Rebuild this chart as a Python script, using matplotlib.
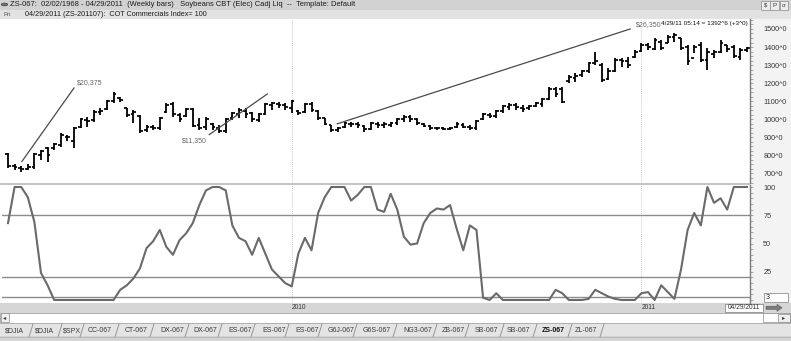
import matplotlib
matplotlib.use("Agg")
import matplotlib.pyplot as plt
from matplotlib.patches import Rectangle, Circle
from matplotlib.lines import Line2D
import numpy as np
import pandas as pd

W, H = 791, 341
plt.rcParams['font.family'] = ['Liberation Sans', 'DejaVu Sans']

# ---------------- data ----------------
title = "ZS-067:  02/02/1968 - 04/29/2011  (Weekly bars)   Soybeans CBT (Elec) Cadj Liq  --  Template: Default"
subtitle = "04/29/2011 (ZS-201107):  COT Commercials Index= 100"
quote_text = "4/29/11 05:14 = 1392^6 (+3^0)"
last_week = "2011-04-29"

opens = [810, 740, 730, 725, 735, 800, 840, 840, 860, 900,
         880, 960, 995, 995, 1040, 1055, 1100, 1120, 1060, 1030,
         1020, 940, 955, 950, 1040, 1085, 1025, 1018, 1055, 970,
         955, 975, 950, 935, 1005, 1030, 1045, 1035, 995, 1030,
         1080, 1085, 1080, 1060, 1045, 1040, 1085, 1045, 1005, 970,
         940, 955, 975, 975, 965, 945, 975, 970, 970, 980,
         1000, 1015, 1000, 975, 965, 950, 950, 945, 955, 970,
         960, 950, 1000, 1025, 1020, 1045, 1070, 1080, 1065, 1060,
         1075, 1085, 1115, 1170, 1170, 1210, 1230, 1245, 1265, 1310,
         1300, 1225, 1270, 1330, 1320, 1345, 1380, 1410, 1390, 1430,
         1425, 1455, 1450, 1400, 1340, 1410, 1330, 1360, 1375, 1410,
         1400, 1345, 1385]
highs = [816, 750, 739, 750, 816, 832, 849, 871, 926, 915,
         959, 1009, 1015, 1053, 1064, 1108, 1152, 1125, 1064, 1053,
         1026, 970, 970, 1015, 1092, 1097, 1037, 1064, 1064, 1009,
         1015, 981, 970, 1009, 1042, 1064, 1064, 1042, 1037, 1092,
         1097, 1097, 1092, 1108, 1053, 1092, 1097, 1053, 1009, 970,
         959, 987, 987, 987, 970, 987, 987, 987, 987, 1009,
         1026, 1026, 1009, 981, 970, 959, 959, 959, 987, 981,
         970, 998, 1037, 1037, 1053, 1081, 1092, 1092, 1081, 1081,
         1097, 1119, 1180, 1180, 1180, 1246, 1257, 1274, 1318, 1373,
         1312, 1285, 1340, 1340, 1346, 1384, 1423, 1423, 1450, 1439,
         1467, 1478, 1450, 1412, 1412, 1428, 1395, 1384, 1439, 1412,
         1412, 1395, 1401]
lows = [733, 717, 706, 717, 722, 777, 761, 832, 849, 877,
        843, 954, 959, 987, 1026, 1053, 1092, 1097, 1015, 981,
        926, 932, 943, 943, 1037, 1015, 987, 1015, 959, 943,
        943, 943, 926, 926, 998, 1009, 1009, 987, 987, 1026,
        1053, 1064, 1053, 1037, 1026, 1037, 1042, 998, 970, 932,
        932, 954, 959, 954, 932, 943, 954, 954, 959, 970,
        987, 987, 970, 959, 943, 943, 938, 943, 954, 954,
        943, 943, 998, 1009, 1009, 1037, 1053, 1053, 1042, 1053,
        1070, 1070, 1108, 1125, 1092, 1202, 1208, 1235, 1257, 1301,
        1208, 1219, 1263, 1290, 1285, 1340, 1373, 1384, 1384, 1384,
        1423, 1428, 1384, 1301, 1368, 1318, 1274, 1340, 1368, 1373,
        1340, 1329, 1373]
closes = [740, 735, 725, 735, 810, 825, 800, 865, 915, 900,
          950, 1000, 990, 1040, 1045, 1100, 1140, 1105, 1025, 1040,
          935, 955, 950, 1005, 1080, 1030, 1000, 1055, 965, 950,
          1000, 960, 935, 1000, 1035, 1050, 1030, 1000, 1030, 1085,
          1090, 1080, 1070, 1100, 1035, 1085, 1050, 1005, 975, 940,
          950, 980, 975, 970, 945, 980, 970, 975, 980, 1000,
          1015, 1000, 980, 965, 950, 950, 945, 950, 975, 960,
          950, 990, 1030, 1020, 1045, 1075, 1080, 1070, 1055, 1075,
          1090, 1115, 1170, 1140, 1095, 1235, 1240, 1265, 1310, 1320,
          1215, 1270, 1330, 1325, 1300, 1375, 1410, 1400, 1440, 1395,
          1455, 1465, 1395, 1320, 1400, 1330, 1370, 1375, 1420, 1390,
          1350, 1385, 1392.75]
cot_index = [68, 100, 100, 91, 69, 24, 13, 0, 0, 0,
             0, 0, 0, 0, 0, 0, 0, 9, 13, 19,
             28, 46, 52, 62, 47, 40, 53, 59, 68, 84,
             97, 100, 100, 97, 66, 55, 52, 40, 55, 41,
             27, 21, 15, 12, 41, 55, 44, 77, 91, 100,
             100, 100, 88, 93, 100, 100, 80, 78, 94, 80,
             56, 49, 50, 68, 77, 81, 80, 84, 63, 44,
             66, 62, 2, 0, 6, 0, 0, 0, 0, 0,
             0, 0, 0, 9, 6, 0, 0, 0, 1, 9,
             6, 3, 1, 0, 0, 0, 6, 7, 0, 13,
             7, 1, 27, 62, 77, 66, 100, 86, 90, 80,
             100, 100, 100]

# drawn trend lines: (bar index start, price start, bar index end, price end, label)
trend_x0 = [2.1, 30.5, 49.9]
trend_y0 = [766, 915, 975]
trend_x1 = [10.0, 39.3, 94.3]
trend_y1 = [1173, 1140, 1500]
trend_labels = ["$20,375", "$11,350", "$26,350"]

price_ticks = [700, 800, 900, 1000, 1100, 1200, 1300, 1400, 1500]
price_tick_labels = ["700^0", "800^0", "900^0", "1000^0", "1100^0",
                     "1200^0", "1300^0", "1400^0", "1500^0"]
index_ticks = [25, 50, 75, 100]
index_levels = [75, 20, 3]
year_labels = [2010, 2011]
tabs = ["$DJIA", "$DJIA", "$SPX", "CC-067", "CT-067", "DX-067", "DX-067",
        "ES-067", "ES-067", "ES-067", "G6J-067", "G6S-067", "NG3-067",
        "ZB-067", "SB-067", "SB-067", "ZS-067", "ZL-067"]
active_tab = "ZS-067"
last_date_label = "04/29/2011"
level_box_label = "3"

# ---------------- layout helpers ----------------
fig = plt.figure(figsize=(W / 100, H / 100), dpi=100)
fig.patch.set_facecolor("white")


def rect(x0, y0, x1, y1, fc, ec="none", lw=0.8, z=-10):
    r = Rectangle((x0 / W, 1 - y1 / H), (x1 - x0) / W, (y1 - y0) / H,
                  transform=fig.transFigure, facecolor=fc, edgecolor=ec,
                  linewidth=lw, zorder=z)
    fig.add_artist(r)
    return r


def ftext(x, y, s, **kw):
    kw.setdefault("fontsize", 5)
    kw.setdefault("va", "center")
    kw.setdefault("ha", "left")
    return fig.text(x / W, 1 - y / H, s, **kw)


def fline(xs, ys, **kw):
    l = Line2D([x / W for x in xs], [1 - y / H for y in ys],
               transform=fig.transFigure, **kw)
    fig.add_artist(l)
    return l


# backgrounds
rect(0, 0, W, 10, "#d2d2d2")
rect(0, 10, W, 19, "#e2e2e2")
rect(750, 19, W, 303, "#f3f3f3")
rect(0, 182.5, 750, 184.5, "#c4c4c4", z=5)
rect(0, 303, W, 312.5, "#d6d6d6")
rect(0, 312.5, W, 322.5, "#ffffff", ec="#a0a0a0", lw=0.6)
rect(0, 322.5, W, H, "#e4e4e4")
rect(0, 336, W, H, "#d4d4d4")

# header
fig.add_artist(Circle((4.5 / W, 1 - 4.5 / H), 3.2 / W, transform=fig.transFigure,
                      facecolor="#707070", edgecolor="#404040", lw=0.5, zorder=3))
ftext(10, 4.8, title, fontsize=5.45, color="#1a1a1a")
ftext(4, 14.3, "Fri", fontsize=4.6, color="#555555")
ftext(25, 14.3, subtitle, fontsize=5.2, color="#1a1a1a")
for k, s in enumerate(["$", "P", "σ"]):
    x0 = 761 + k * 9.3
    rect(x0, 1, x0 + 8.5, 9.5, "#ececec", ec="#8a8a8a", lw=0.5, z=2)
    ftext(x0 + 4.25, 5.3, s, fontsize=4.4, ha="center", color="#333333")

# ---------------- axes ----------------
bx0, bx1 = 2, 750
step = (747 - 8) / 112.0
xl0 = (bx0 - 8) / step
xl1 = (bx1 - 8) / step


def p_at(y):
    return 1500 - (y - 29) * 800.0 / 145.0


def v_at(y):
    return 100 - (y - 187) * 100.0 / 113.0


ax_p = fig.add_axes([bx0 / W, 1 - 182.5 / H, (bx1 - bx0) / W, (182.5 - 19) / H])
ax_i = fig.add_axes([bx0 / W, 1 - 303 / H, (bx1 - bx0) / W, (303 - 184.5) / H])

n = len(closes)
idx = np.arange(n)
dates = pd.date_range(end=last_week, periods=n, freq="W-FRI")

for ax in (ax_p, ax_i):
    ax.set_facecolor("white")
    ax.set_xlim(xl0, xl1)
    for s in ("top", "left", "bottom"):
        ax.spines[s].set_visible(False)
    ax.spines["right"].set_color("#7a7a7a")
    ax.spines["right"].set_linewidth(1.0)
    ax.yaxis.tick_right()
    ax.set_xticks([])
    ax.tick_params(axis="y", which="both", direction="out", colors="#9a9a9a",
                   labelcolor="#333333", labelsize=5.2, pad=7, length=2.5, width=0.6)

# price bars
ax_p.set_ylim(p_at(182.5), p_at(19))
ax_p.vlines(idx, lows, highs, color="black", lw=1.3)
ax_p.hlines(opens, idx - 0.42, idx, color="black", lw=1.25)
ax_p.hlines(closes, idx, idx + 0.42, color="black", lw=1.25)
ax_p.set_yticks(price_ticks)
ax_p.set_yticklabels(price_tick_labels)
ax_p.set_yticks(np.arange(650, 1560, 25), minor=True)

for k in range(len(trend_labels)):
    ax_p.plot([trend_x0[k], trend_x1[k]], [trend_y0[k], trend_y1[k]],
              color="#4a4a4a", lw=0.9)
ax_p.text(trend_x1[0] + 0.4, trend_y1[0] + 12, trend_labels[0], fontsize=5,
          color="#666666", ha="left", va="bottom")
ax_p.text(trend_x0[1] - 4.2, trend_y0[1] - 12, trend_labels[1], fontsize=5,
          color="#666666", ha="left", va="top")
ax_p.text(trend_x1[2] + 0.8, trend_y1[2] + 6, trend_labels[2], fontsize=5,
          color="#666666", ha="left", va="bottom")
ftext(661, 24, quote_text, fontsize=4.6, color="#111111")

# indicator
ax_i.set_ylim(v_at(303), v_at(184.5))
for lv in index_levels:
    ax_i.axhline(lv, color="#8c8c8c", lw=1.0, zorder=1)
ax_i.plot(idx, cot_index, color="#6a6a6a", lw=1.5, zorder=3)
ax_i.set_yticks(index_ticks)
ax_i.set_yticks(np.arange(0, 101, 5), minor=True)

# year separators
for yr in year_labels:
    j = int(np.argmax(dates.year == yr))
    for ax in (ax_p, ax_i):
        ax.axvline(j, color="#b5b5b5", lw=0.6, ls=(0, (1, 1.5)), zorder=0)
    xpx = 8 + j * step
    ftext(xpx, 307.5, str(yr), fontsize=4.8, color="#333333")

# bottom widgets
rect(725, 303.5, 763, 312, "#ffffff", ec="#7a7a7a", lw=0.5, z=6)
ftext(744, 307.8, last_date_label, fontsize=4.8, ha="center", color="#333333", zorder=7)
fig.add_artist(matplotlib.patches.FancyArrow(766 / W, 1 - 307.8 / H, 11 / W, 0,
               width=3.2 / H, head_width=7 / H, head_length=5 / W,
               length_includes_head=False, transform=fig.transFigure,
               facecolor="#7d7d7d", edgecolor="#5a5a5a", lw=0.4, zorder=6))
rect(763.5, 293, 788, 302, "#ffffff", ec="#7a7a7a", lw=0.5, z=6)
ftext(766, 297.6, level_box_label, fontsize=5, color="#222222", zorder=7)

rect(0.5, 313, 9, 322, "#f0f0f0", ec="#8a8a8a", lw=0.5, z=2)
ftext(4.7, 317.5, "◂", fontsize=4.5, ha="center", color="#333333")
rect(763, 313, 790, 322, "#ffffff", ec="#8a8a8a", lw=0.5, z=2)
rect(778, 313.5, 789.5, 321.5, "#eeeeee", ec="#8a8a8a", lw=0.5, z=3)
ftext(783.7, 317.5, "▸", fontsize=4.5, ha="center", color="#333333")

# tabs
tab_x = [5, 35, 63, 88, 125, 160, 193, 228, 262, 295, 328, 363, 403, 442, 475, 507, 542, 575]
sep_x = [31, 60, 82, 117, 152, 187, 220, 253, 287, 320, 355, 395, 435, 467, 502, 535, 570, 602]
fline([0, W], [323, 323], color="#a8a8a8", lw=0.6)
for k, name in enumerate(tabs):
    bold = name == active_tab
    ftext(tab_x[k], 331, name, fontsize=5.0, color="#111111" if bold else "#3a3a3a",
          fontweight="bold" if bold else "normal")
    fline([sep_x[k] - 2, sep_x[k] + 2], [337, 324], color="#8a8a8a", lw=0.6)
fline([0, W], [337, 337], color="#b0b0b0", lw=0.5)

fig.savefig("out.png", dpi=100, facecolor=fig.get_facecolor())
